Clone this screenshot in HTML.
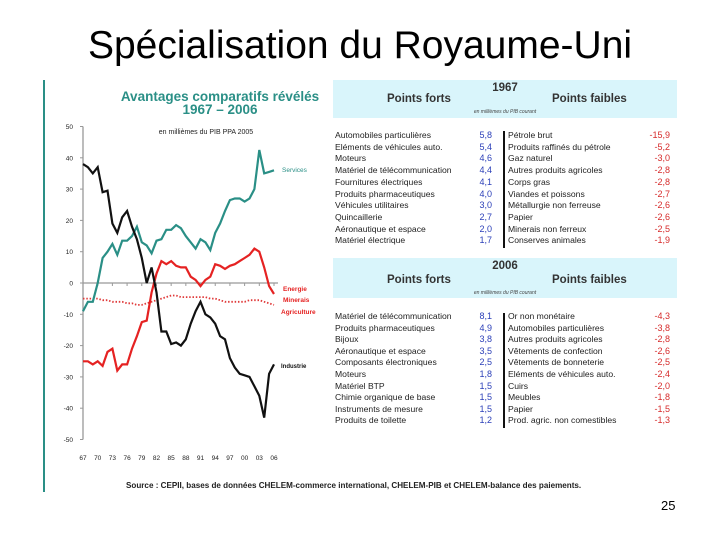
<!DOCTYPE html>
<html><head><meta charset="utf-8"><style>
body{margin:0;width:720px;height:540px;background:#fff;position:relative;overflow:hidden;font-family:"Liberation Sans",sans-serif}
.abs{position:absolute;white-space:nowrap}
.hdr{position:absolute;left:333px;width:344px;background:#d9f5fb}
.row{position:absolute;font-size:8.6px;color:#222}
</style></head><body>
<div class="abs" style="left:0;width:720px;text-align:center;top:24px;font-size:39px;color:#000">Spécialisation du Royaume-Uni</div>
<div class="abs" style="left:43px;top:80px;width:2px;height:412px;background:#2a8f86"></div>

<svg class="abs" style="left:0;top:0" width="330" height="470">
<g id="g"></g>
</svg>

<div class="hdr" style="top:80px;height:38px">
 <div class="abs" style="left:0;width:344px;text-align:center;top:2px;font-size:11.5px;font-weight:bold;color:#333">1967</div>
 <div class="abs" style="left:54px;top:13px;font-size:11.5px;font-weight:bold;color:#333">Points forts</div>
 <div class="abs" style="left:219px;top:13px;font-size:11.5px;font-weight:bold;color:#333">Points faibles</div>
 <div class="abs" style="left:0;width:344px;text-align:center;top:29px;font-size:5px;font-style:italic;color:#444">en millièmes du PIB courant</div>
</div>
<div class="hdr" style="top:258px;height:40px">
 <div class="abs" style="left:0;width:344px;text-align:center;top:2px;font-size:11.5px;font-weight:bold;color:#333">2006</div>
 <div class="abs" style="left:54px;top:16px;font-size:11.5px;font-weight:bold;color:#333">Points forts</div>
 <div class="abs" style="left:219px;top:16px;font-size:11.5px;font-weight:bold;color:#333">Points faibles</div>
 <div class="abs" style="left:0;width:344px;text-align:center;top:32px;font-size:5px;font-style:italic;color:#444">en millièmes du PIB courant</div>
</div>
<div class="abs" style="left:503px;top:131px;width:2px;height:117px;background:#111"></div>
<div class="abs" style="left:503px;top:313px;width:2px;height:115px;background:#111"></div>
<div id="tables"></div>

<div class="abs" style="left:126px;top:481px;font-size:8.1px;font-weight:bold;color:#222">Source : CEPII, bases de données CHELEM-commerce international, CHELEM-PIB et CHELEM-balance des paiements.</div>
<div class="abs" style="left:661px;top:498px;font-size:13px">25</div>

<script>
const years=[];for(let y=1967;y<=2006;y++)years.push(y);
const industrie=[38,37,35,37,29,29.5,19,16,21,23,18,14,8,0,5,-3,-15.5,-15.5,-19.5,-19,-20,-18,-13,-9,-6,-10,-11,-13,-17,-18,-24,-27,-29,-29.5,-30,-33,-36,-43,-29,-26];
const services=[-9,-6,-6,0,8,10,12.5,9,13.5,13.5,15,18,13,12,9.5,13.5,14,17,17,18.5,17.5,15,13,11,14,13,10.5,16,19,23,26.5,27,27,26,27,30,42.5,35,35.5,36];
const energie=[-25,-25,-26,-25,-26.5,-22,-21,-28,-26,-26,-21,-17,-12.5,-12,-3,3,7,6,7,5.5,5,5,2,1,-1,1,2,6,5.5,4.5,5.5,6,7,8,9,11,10,5,-1,-3.5];
const agriculture=[-5,-5,-5,-5,-5.5,-5.5,-6,-6,-6,-6.5,-6.5,-7,-7,-6.5,-6,-5.5,-5,-4.5,-4,-4,-4.5,-4.5,-4.5,-4.5,-4.5,-4.5,-5,-5,-5.5,-6,-6,-6,-6,-6,-5.5,-5.5,-5.5,-6,-6.5,-7];
const yTicks=[50,40,30,20,10,0,-10,-20,-30,-40,-50];
const xTickLabels=["67","70","73","76","79","82","85","88","91","94","97","00","03","06"];
const t1Left=["Automobiles particulières","Eléments de véhicules auto.","Moteurs","Matériel de télécommunication","Fournitures électriques","Produits pharmaceutiques","Véhicules utilitaires","Quincaillerie","Aéronautique et espace","Matériel électrique"];
const t1LeftV=["5,8","5,4","4,6","4,4","4,1","4,0","3,0","2,7","2,0","1,7"];
const t1Right=["Pétrole brut","Produits raffinés du pétrole","Gaz naturel","Autres produits agricoles","Corps gras","Viandes et poissons","Métallurgie non ferreuse","Papier","Minerais non ferreux","Conserves animales"];
const t1RightV=["-15,9","-5,2","-3,0","-2,8","-2,8","-2,7","-2,6","-2,6","-2,5","-1,9"];
const t2Left=["Matériel de télécommunication","Produits pharmaceutiques","Bijoux","Aéronautique et espace","Composants électroniques","Moteurs","Matériel BTP","Chimie organique de base","Instruments de mesure","Produits de toilette"];
const t2LeftV=["8,1","4,9","3,8","3,5","2,5","1,8","1,5","1,5","1,5","1,2"];
const t2Right=["Or non monétaire","Automobiles particulières","Autres produits agricoles","Vêtements de confection","Vêtements de bonneterie","Eléments de véhicules auto.","Cuirs","Meubles","Papier","Prod. agric. non comestibles"];
const t2RightV=["-4,3","-3,8","-2,8","-2,6","-2,5","-2,4","-2,0","-1,8","-1,5","-1,3"];

const NS="http://www.w3.org/2000/svg";
const g=document.getElementById('g');
const X=y=>83+(y-1967)*(274-83)/39;
const Y=v=>283-v*3.13;
function el(tag,attrs,txt){const e=document.createElementNS(NS,tag);for(const k in attrs)e.setAttribute(k,attrs[k]);if(txt!=null)e.textContent=txt;g.appendChild(e);return e;}
let e;
e=el('text',{x:220,y:101,'text-anchor':'middle','font-size':13.5,'font-weight':'bold',fill:'#2a8f86'},'Avantages comparatifs révélés');

el('text',{x:220,y:114,'text-anchor':'middle','font-size':13.5,'font-weight':'bold',fill:'#2a8f86'},'1967 – 2006');
e=el('text',{x:206,y:134,'text-anchor':'middle','font-size':7,fill:'#222'},'en millièmes du PIB PPA 2005');

e=el('line',{x1:83,y1:Y(50),x2:83,y2:Y(-50),stroke:'#999','stroke-width':1.3});

e=el('line',{x1:83,y1:Y(0),x2:278,y2:Y(0),stroke:'#999','stroke-width':1.3});

yTicks.forEach(t=>{el('line',{x1:80,x2:83,y1:Y(t),y2:Y(t),stroke:'#999'});
 e=el('text',{x:73,y:Y(t)+2.5,'text-anchor':'end','font-size':6.5,fill:'#222'},t);
 });
xTickLabels.forEach((l,i)=>{const yr=1967+i*3;el('line',{x1:X(yr),x2:X(yr),y1:Y(0),y2:Y(0)+3,stroke:'#999'});
 e=el('text',{x:X(yr),y:460,'text-anchor':'middle','font-size':6.5,fill:'#222'},l);
 });
function line(data,color,name,dash){const d=data.map((v,i)=>(i?'L':'M')+X(years[i]).toFixed(1)+','+Y(v).toFixed(1)).join('');
 const p=el('path',{d:d,fill:'none',stroke:color,'stroke-width':dash?1.8:2.2,'stroke-dasharray':dash||'none'});
 }
line(agriculture,'#e03a3a','agriculture-line','1.5 1.8');
line(energie,'#e52222','energie-line');
line(services,'#2a8f86','services-line');
line(industrie,'#111','industrie-line');
e=el('text',{x:282,y:172,'font-size':6.5,fill:'#2a8f86'},'Services');
e=el('text',{x:283,y:291,'font-size':6.5,'font-weight':'bold',fill:'#e52222'},'Energie');
e=el('text',{x:283,y:302,'font-size':6.5,'font-weight':'bold',fill:'#e52222'},'Minerais');
e=el('text',{x:281,y:314,'font-size':6.5,'font-weight':'bold',fill:'#e52222'},'Agriculture');
e=el('text',{x:281,y:368,'font-size':6,'font-weight':'bold',fill:'#111'},'Industrie');

const tb=document.getElementById('tables');
function table(top,L,LV,R,RV,step,key){
 for(let i=0;i<L.length;i++){const y=top+i*step;
  [[335,L[i],'#222','left'],[446,LV[i],'#2b3fb8','right'],[508,R[i],'#222','left'],[624,RV[i],'#d62b2b','right']].forEach(([x,t,c,a],k)=>{
   const d=document.createElement('div');d.className='row abs';d.textContent=t;
   d.style.top=y+'px';d.style.color=c;
   if(a==='left')d.style.left=x+'px';else{d.style.left=x+'px';d.style.width='46px';d.style.textAlign='right';d.style.fontSize='9px';}
   
   
   tb.appendChild(d);});}
}
table(130,t1Left,t1LeftV,t1Right,t1RightV,11.7,'table-1967');
table(311,t2Left,t2LeftV,t2Right,t2RightV,11.6,'table-2006');
</script>
</body></html>
